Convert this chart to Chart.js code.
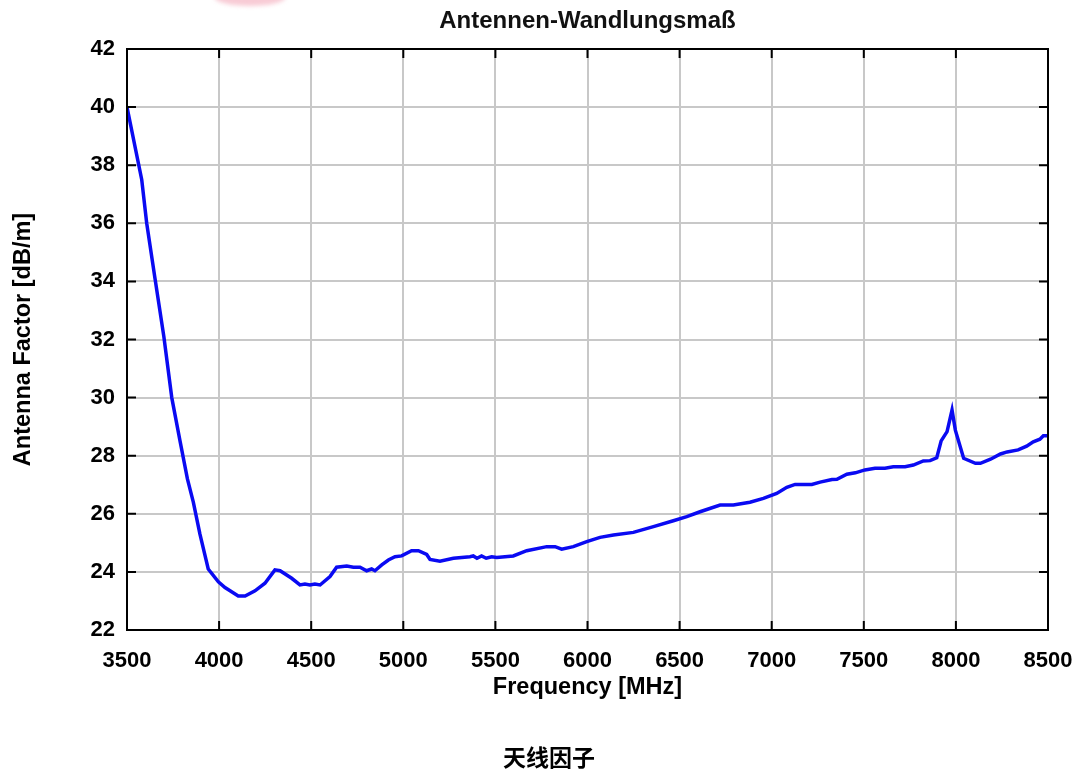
<!DOCTYPE html>
<html>
<head>
<meta charset="utf-8">
<script src="https://cdn.jsdelivr.net/npm/chart.js@4"></script>
<style>
  body { margin: 0; background: #fff; }
  #wrap { position: relative; width: 1080px; height: 776px; overflow: hidden; }
  #blob { position: absolute; left: 214px; top: -13px; width: 72px; height: 19px;
          border-radius: 50%; background: rgba(242, 160, 178, 0.55); filter: blur(2px); }
  #caption { position: absolute; left: 0; top: 742px; width: 1098px; text-align: center;
             font-family: "Noto Sans CJK SC", sans-serif; font-weight: bold; font-size: 23px;
             line-height: 28px; color: #000; }
</style>
</head>
<body>
<div id="wrap">
  <canvas id="chart" width="1080" height="776"></canvas>
  <div id="blob"></div>
  <div id="caption">天线因子</div>
</div>
<script>
// frequency in MHz
const freq = [3500, 3580, 3607, 3652, 3700, 3743, 3788, 3828, 3860, 3896, 3941, 3996, 4032, 4104, 4141,
  4195, 4249, 4303, 4331, 4394, 4439, 4466, 4493, 4520, 4548, 4602, 4638, 4693, 4729, 4765,
  4801, 4828, 4846, 4883, 4919, 4955, 4991, 5045, 5082, 5127, 5145, 5199, 5272, 5362, 5380,
  5400, 5425, 5450, 5480, 5507, 5597, 5670, 5779, 5824, 5860, 5923, 5996, 6068, 6141, 6249,
  6358, 6466, 6539, 6611, 6720, 6792, 6882, 6955, 7027, 7082, 7127, 7218, 7263, 7327, 7354,
  7408, 7454, 7506, 7561, 7615, 7660, 7724, 7769, 7823, 7860, 7896, 7920, 7952, 7979, 7997,
  8042, 8106, 8133, 8188, 8242, 8278, 8338, 8384, 8420, 8456, 8475, 8500];
// antenna factor in dB/m
const antennaFactor = [40.0, 37.5, 36.0, 34.1, 32.1, 30.0, 28.5, 27.2, 26.4, 25.3, 24.1, 23.66, 23.46, 23.17, 23.17,
  23.35, 23.61, 24.07, 24.04, 23.78, 23.55, 23.58, 23.55, 23.58, 23.55, 23.84, 24.16, 24.2, 24.16, 24.16,
  24.04, 24.1, 24.04, 24.24, 24.41, 24.52, 24.55, 24.73, 24.73, 24.6, 24.43, 24.37, 24.47, 24.52, 24.55,
  24.47, 24.55, 24.47, 24.52, 24.5, 24.55, 24.73, 24.87, 24.87, 24.78, 24.87, 25.04, 25.19, 25.27, 25.36,
  25.56, 25.76, 25.9, 26.07, 26.3, 26.3, 26.4, 26.53, 26.7, 26.91, 27.01, 27.01, 27.09, 27.18, 27.19,
  27.36, 27.41, 27.51, 27.57, 27.57, 27.62, 27.62, 27.68, 27.82, 27.83, 27.93, 28.51, 28.83, 29.57, 28.88,
  27.91, 27.74, 27.74, 27.88, 28.06, 28.13, 28.2, 28.33, 28.48, 28.57, 28.69, 28.69];

const xTicks = [3500, 4000, 4500, 5000, 5500, 6000, 6500, 7000, 7500, 8000, 8500];
const yTicks = [22, 24, 26, 28, 30, 32, 34, 36, 38, 40, 42];

const chartTitle = 'Antennen-Wandlungsmaß';
const xTitle = 'Frequency [MHz]';
const yTitle = 'Antenna Factor [dB/m]';

const tickFont = { family: 'Liberation Sans', size: 22, weight: 'bold' };
const titleFont = { family: 'Liberation Sans', size: 23.5, weight: 'bold' };

// frame round the plot with short ticks pointing inward on all four sides
const frameTicks = {
  id: 'frameTicks',
  afterDraw(chart) {
    const { ctx, chartArea: a, scales } = chart;
    const len = 9;
    ctx.save();
    ctx.strokeStyle = '#000';
    ctx.lineWidth = 2;
    ctx.strokeRect(a.left, a.top, a.right - a.left, a.bottom - a.top);
    ctx.beginPath();
    xTicks.forEach(v => {
      const px = scales.x.getPixelForValue(v);
      ctx.moveTo(px, a.bottom); ctx.lineTo(px, a.bottom - len);
      ctx.moveTo(px, a.top); ctx.lineTo(px, a.top + len);
    });
    yTicks.forEach(v => {
      const py = scales.y.getPixelForValue(v);
      ctx.moveTo(a.left, py); ctx.lineTo(a.left + len, py);
      ctx.moveTo(a.right, py); ctx.lineTo(a.right - len, py);
    });
    ctx.stroke();
    ctx.restore();
  }
};

new Chart(document.getElementById('chart'), {
  type: 'line',
  data: {
    datasets: [{
      data: freq.map((f, i) => ({ x: f, y: antennaFactor[i] })),
      borderColor: '#0a0af2',
      borderWidth: 3.5,
      pointRadius: 0,
      tension: 0,
      fill: false
    }]
  },
  options: {
    responsive: false,
    animation: false,
    devicePixelRatio: 1,
    layout: { padding: { left: 0, right: 32, top: 0, bottom: 71 } },
    plugins: {
      legend: { display: false },
      tooltip: { enabled: false },
      title: {
        display: true,
        fullSize: false,
        text: chartTitle,
        color: '#111',
        font: { family: 'Liberation Sans', size: 24, weight: 'bold', lineHeight: 1.2 },
        padding: { top: 7, bottom: 13.2 }
      }
    },
    scales: {
      x: {
        type: 'linear',
        min: 3500,
        max: 8500,
        afterFit: s => { s.height = 75; s.paddingLeft = 0; s.paddingRight = 0; },
        afterBuildTicks: s => { s.ticks = xTicks.map(v => ({ value: v })); },
        ticks: { color: '#000', font: tickFont, padding: 18, maxRotation: 0, autoSkip: false,
                 callback: v => String(v) },
        grid: { color: '#c8c8c8', lineWidth: 2, drawTicks: false },
        border: { display: true, color: '#000', width: 2 },
        title: { display: true, text: xTitle, color: '#000', font: titleFont, padding: { top: 0, bottom: 3 } }
      },
      y: {
        min: 22,
        max: 42,
        afterFit: s => { s.width = 127; s.paddingTop = 0; s.paddingBottom = 0; },
        afterBuildTicks: s => { s.ticks = yTicks.map(v => ({ value: v })); },
        ticks: { color: '#000', font: tickFont, padding: 12, callback: v => String(v) },
        grid: { color: '#c8c8c8', lineWidth: 2, drawTicks: false },
        border: { display: true, color: '#000', width: 2 },
        title: { display: true, text: yTitle, color: '#000', font: titleFont, padding: { top: 9, bottom: 0 } }
      }
    }
  },
  plugins: [frameTicks]
});
</script>
</body>
</html>
